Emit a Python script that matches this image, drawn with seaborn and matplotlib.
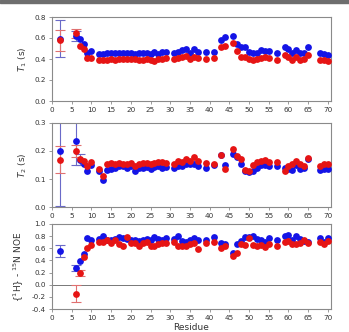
import numpy as np
import pandas as pd
import matplotlib
matplotlib.use("Agg")
import matplotlib.pyplot as plt
import seaborn as sns
from matplotlib.patches import Rectangle

residues = [2, 6, 7, 8, 9, 10,
            12, 13, 14, 15, 16, 17, 18, 19, 20, 21, 22, 23, 24, 25, 26, 27, 28, 29,
            31, 32, 33, 34, 35, 36, 37, 39, 41, 43, 44,
            46, 47, 48, 49, 50, 51, 52, 53, 54, 55, 57,
            59, 60, 61, 62, 63, 64, 65, 68, 69, 70]

t1_blue = [0.59, 0.62, 0.59, 0.54, 0.46, 0.48,
           0.45, 0.45, 0.46, 0.46, 0.46, 0.46, 0.46, 0.46, 0.46, 0.45, 0.46, 0.46, 0.46, 0.45, 0.47, 0.45, 0.47, 0.47,
           0.46, 0.47, 0.49, 0.50, 0.46, 0.50, 0.47, 0.47, 0.47, 0.58, 0.61,
           0.62, 0.54, 0.51, 0.51, 0.47, 0.46, 0.46, 0.49, 0.48, 0.48, 0.46,
           0.51, 0.50, 0.46, 0.49, 0.46, 0.46, 0.51, 0.46, 0.45, 0.44]
t1_red = [0.58, 0.65, 0.52, 0.50, 0.41, 0.41,
          0.39, 0.39, 0.39, 0.40, 0.39, 0.40, 0.40, 0.40, 0.40, 0.40, 0.39, 0.39, 0.40, 0.39, 0.38, 0.40, 0.40, 0.41,
          0.40, 0.41, 0.42, 0.43, 0.40, 0.42, 0.41, 0.40, 0.41, 0.51, 0.52,
          0.55, 0.48, 0.42, 0.42, 0.40, 0.39, 0.40, 0.41, 0.42, 0.41, 0.39,
          0.44, 0.42, 0.39, 0.42, 0.39, 0.40, 0.44, 0.39, 0.39, 0.38]

t2_blue = [0.199, 0.235, 0.168, 0.155, 0.130, 0.150,
           0.128, 0.095, 0.133, 0.135, 0.140, 0.145, 0.148, 0.138, 0.145, 0.130, 0.138, 0.140, 0.142, 0.135, 0.142, 0.145, 0.138, 0.142,
           0.140, 0.145, 0.148, 0.155, 0.152, 0.155, 0.148, 0.138, 0.150, 0.185, 0.150,
           0.188, 0.180, 0.153, 0.130, 0.125, 0.130, 0.140, 0.150, 0.150, 0.145, 0.148,
           0.140, 0.135, 0.133, 0.150, 0.135, 0.140, 0.170, 0.133, 0.135, 0.135]
t2_red = [0.169, 0.200, 0.173, 0.165, 0.145, 0.160,
          0.135, 0.110, 0.153, 0.158, 0.152, 0.156, 0.155, 0.155, 0.158, 0.148, 0.153, 0.156, 0.158, 0.152, 0.158, 0.160, 0.162, 0.158,
          0.155, 0.165, 0.160, 0.170, 0.165, 0.180, 0.165, 0.156, 0.155, 0.186, 0.136,
          0.207, 0.183, 0.170, 0.132, 0.128, 0.150, 0.160, 0.165, 0.168, 0.160, 0.160,
          0.130, 0.145, 0.155, 0.165, 0.155, 0.145, 0.175, 0.145, 0.152, 0.152]

noe_blue = [0.56, 0.28, 0.39, 0.51, 0.77, 0.73,
            0.75, 0.80, 0.74, 0.74, 0.76, 0.79, 0.77, 0.76, 0.74, 0.73, 0.72, 0.74, 0.75, 0.73, 0.78, 0.76, 0.73, 0.77,
            0.75, 0.80, 0.72, 0.71, 0.74, 0.77, 0.73, 0.73, 0.79, 0.69, 0.67,
            0.52, 0.67, 0.72, 0.78, 0.79, 0.80, 0.76, 0.73, 0.71, 0.77, 0.74,
            0.80, 0.82, 0.74, 0.80, 0.76, 0.72, 0.70, 0.77, 0.71, 0.77]
noe_red = [np.nan, -0.15, 0.20, 0.45, 0.61, 0.65,
           0.70, 0.70, 0.74, 0.69, 0.74, 0.67, 0.63, 0.78, 0.69, 0.68, 0.63, 0.69, 0.71, 0.64, 0.63, 0.67, 0.69, 0.68,
           0.71, 0.64, 0.64, 0.63, 0.67, 0.69, 0.59, 0.68, 0.70, 0.61, 0.63,
           0.48, 0.53, 0.67, 0.66, 0.77, 0.65, 0.64, 0.65, 0.62, 0.67, 0.64,
           0.71, 0.72, 0.67, 0.67, 0.68, 0.74, 0.69, 0.71, 0.67, 0.72]

# error bars (only visible ones): residue, lower, upper
t1_err_blue = [(2, 0.42, 0.77), (6, 0.57, 0.67)]
t1_err_red = [(2, 0.48, 0.675), (6, 0.60, 0.69)]
t2_err_blue = [(2, 0.005, 0.40), (6, 0.149, 0.40), (7, 0.15, 0.19)]
t2_err_red = [(2, 0.12, 0.218), (6, 0.177, 0.222)]
noe_err_blue = [(2, 0.45, 0.65), (6, 0.23, 0.32)]
noe_err_red = [(6, -0.29, -0.01), (7, 0.15, 0.24)]

x_ticks = list(range(0, 71, 5))

BLUE = "#1414e6"
RED = "#e61414"
EBLUE = "#6a6ac8"
ERED = "#e07070"
SPINE = "#8a8a8a"
TXT = "#333333"

sns.set_style("white")
plt.rcParams['font.family'] = ['DejaVu Sans']

fig = plt.figure(figsize=(3.49, 3.32), dpi=100)
L, R = 52 / 349, 331 / 349
def ypos(top, bot):
    return [L, 1 - bot / 332, R - L, (bot - top) / 332]

ax1 = fig.add_axes(ypos(17, 101))
ax2 = fig.add_axes(ypos(123, 207))
ax3 = fig.add_axes(ypos(224, 309))

def draw(ax, blue, red, eb, er, ylim, yticks, ylabel):
    df = pd.DataFrame({"res": residues * 2,
                       "val": list(blue) + list(red),
                       "set": ["b"] * len(residues) + ["r"] * len(residues)})
    for e, c in ((eb, EBLUE), (er, ERED)):
        for (x, lo, hi) in e:
            mid = (lo + hi) / 2
            ax.errorbar([x], [mid], yerr=[[mid - lo], [hi - mid]], fmt='none',
                        ecolor=c, elinewidth=0.8, capsize=3.5, capthick=0.8, zorder=2)
    sns.scatterplot(data=df[df.set == "b"], x="res", y="val", ax=ax, color=BLUE,
                    s=24, linewidth=0, legend=False, zorder=3)
    sns.scatterplot(data=df[df.set == "r"], x="res", y="val", ax=ax, color=RED,
                    s=24, linewidth=0, legend=False, zorder=4)
    ax.set_xlim(0, 70.8)
    ax.set_ylim(*ylim)
    ax.set_yticks(yticks)
    ax.set_yticklabels([f"{t:.1f}" for t in yticks])
    ax.set_xticks(x_ticks)
    ax.set_xlabel("")
    ax.set_ylabel(ylabel, fontsize=6.5, color=TXT, labelpad=4)
    ax.tick_params(axis='both', direction='out', length=2.5, width=0.6,
                   color=SPINE, labelsize=5.2, labelcolor=TXT, pad=2)
    ax.tick_params(bottom=True, left=True)
    for s in ax.spines.values():
        s.set_color(SPINE)
        s.set_linewidth(0.8)

draw(ax1, t1_blue, t1_red, t1_err_blue, t1_err_red, (0, 0.8),
     [0.0, 0.2, 0.4, 0.6, 0.8], r"$T_1$ (s)")
draw(ax2, t2_blue, t2_red, t2_err_blue, t2_err_red, (0, 0.3),
     [0.0, 0.1, 0.2, 0.3], r"$T_2$ (s)")
draw(ax3, noe_blue, noe_red, noe_err_blue, noe_err_red, (-0.4, 1.0),
     [-0.4, -0.2, 0.0, 0.2, 0.4, 0.6, 0.8, 1.0], r"{$^1$H} - $^{15}$N NOE")
ax3.axhline(0, color="#777777", linewidth=0.7, zorder=1)
ax3.set_xlabel("Residue", fontsize=6.5, color=TXT, labelpad=1)

fig.add_artist(Rectangle((0, 1 - 2.5 / 332), 1, 2.5 / 332, transform=fig.transFigure,
                         color="#6e6e6e", zorder=10))

fig.savefig("out.png", dpi=100)
